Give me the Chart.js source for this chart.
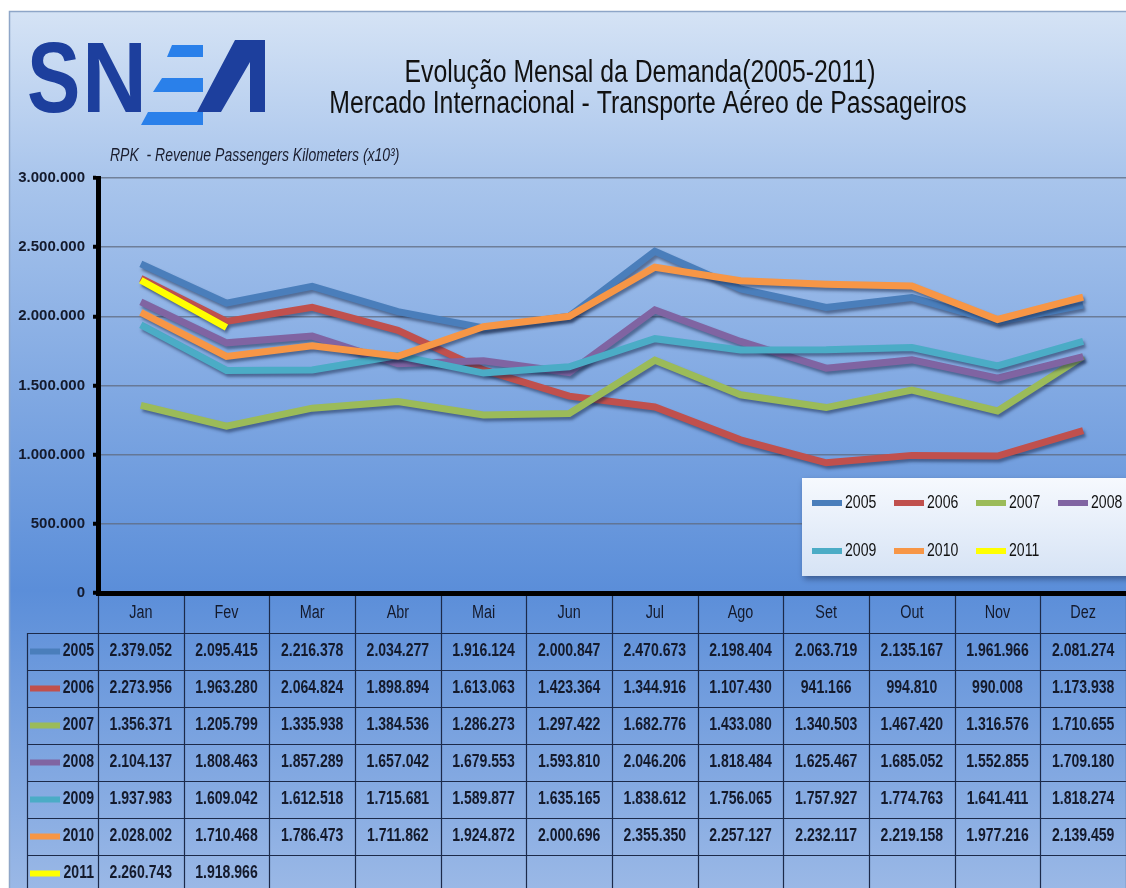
<!DOCTYPE html>
<html>
<head>
<meta charset="utf-8">
<script src="https://cdn.jsdelivr.net/npm/chart.js@4.4.1/dist/chart.umd.min.js"></script>
<style>
  html, body { margin: 0; padding: 0; background: #fff; }
  canvas { display: block; }
</style>
</head>
<body>
<canvas id="rpk" width="1126" height="888"></canvas>
<script>
const months = ["Jan", "Fev", "Mar", "Abr", "Mai", "Jun", "Jul", "Ago", "Set", "Out", "Nov", "Dez"];
const years = ["2005", "2006", "2007", "2008", "2009", "2010", "2011"];

const rpk2005 = [2379052, 2095415, 2216378, 2034277, 1916124, 2000847, 2470673, 2198404, 2063719, 2135167, 1961966, 2081274];
const rpk2006 = [2273956, 1963280, 2064824, 1898894, 1613063, 1423364, 1344916, 1107430, 941166, 994810, 990008, 1173938];
const rpk2007 = [1356371, 1205799, 1335938, 1384536, 1286273, 1297422, 1682776, 1433080, 1340503, 1467420, 1316576, 1710655];
const rpk2008 = [2104137, 1808463, 1857289, 1657042, 1679553, 1593810, 2046206, 1818484, 1625467, 1685052, 1552855, 1709180];
const rpk2009 = [1937983, 1609042, 1612518, 1715681, 1589877, 1635165, 1838612, 1756065, 1757927, 1774763, 1641411, 1818274];
const rpk2010 = [2028002, 1710468, 1786473, 1711862, 1924872, 2000696, 2355350, 2257127, 2232117, 2219158, 1977216, 2139459];
const rpk2011 = [2260743, 1918966];

const yTicks = [0, 500000, 1000000, 1500000, 2000000, 2500000, 3000000];

const seriesData = [rpk2005, rpk2006, rpk2007, rpk2008, rpk2009, rpk2010, rpk2011];
const seriesColors = ["#4a7ebb", "#c0504d", "#9bbb59", "#8064a2", "#4bacc6", "#f79646", "#ffff00"];

const FONT = '"Liberation Sans", Arial, sans-serif';
const fmt = (v) => String(v).replace(/\B(?=(\d{3})+(?!\d))/g, ".");

// Liberation Sans squeezed sideways, to look like the narrow face of the original
function narrowText(ctx, text, x, y, font, align, color, squeeze = 0.78) {
  ctx.save();
  ctx.font = font;
  ctx.fillStyle = color;
  ctx.textAlign = align;
  ctx.textBaseline = "middle";
  ctx.translate(x, y);
  ctx.scale(squeeze, 1);
  ctx.fillText(text, 0, 0);
  ctx.restore();
}

// panel background, logo and titles
const backdrop = {
  id: "backdrop",
  beforeDraw(chart) {
    const ctx = chart.ctx;
    ctx.save();
    const g = ctx.createLinearGradient(0, 11, 0, 888);
    g.addColorStop(0, "#d5e3f5");
    g.addColorStop(0.19, "#a9c5ec");
    g.addColorStop(0.66, "#5b8ed9");
    g.addColorStop(1, "#9ab8e6");
    ctx.fillStyle = g;
    ctx.fillRect(9, 11, 1117, 877);
    ctx.strokeStyle = "#8ea6c8";
    ctx.lineWidth = 1.5;
    ctx.strokeRect(9.5, 11.5, 1130, 890);

    // logo
    ctx.fillStyle = "#1d3f9d";
    ctx.font = "bold 100px " + FONT;
    ctx.textBaseline = "alphabetic";
    ctx.textAlign = "left";
    ctx.save();
    ctx.translate(27, 112);
    ctx.scale(0.8, 1);
    ctx.fillText("S", 0, 0);
    ctx.restore();
    ctx.save();
    ctx.translate(82, 112);
    ctx.scale(0.9, 1);
    ctx.fillText("N", 0, 0);
    ctx.restore();
    ctx.fillStyle = "#2a80ea";
    const bar = (tl, bl, y0, y1) => {
      ctx.beginPath();
      ctx.moveTo(tl, y0); ctx.lineTo(203, y0); ctx.lineTo(203, y1); ctx.lineTo(bl, y1);
      ctx.closePath(); ctx.fill();
    };
    bar(172, 167, 45, 57);
    bar(162, 153, 78, 92);
    bar(148, 141, 112, 125);
    ctx.fillStyle = "#1d3f9d";
    ctx.beginPath();
    ctx.moveTo(197, 112); ctx.lineTo(235, 40); ctx.lineTo(265, 40); ctx.lineTo(265, 112);
    ctx.lineTo(250, 112); ctx.lineTo(250, 62); ctx.lineTo(221, 112);
    ctx.closePath(); ctx.fill();
    ctx.restore();

    // titles
    narrowText(ctx, "Evolução Mensal da Demanda(2005-2011)", 640, 73, "31px " + FONT, "center", "#111", 0.8);
    narrowText(ctx, "Mercado Internacional - Transporte Aéreo de Passageiros", 648, 104, "31px " + FONT, "center", "#111", 0.8);
    narrowText(ctx, "RPK  - Revenue Passengers Kilometers (x10³)", 110, 156, "italic 17.5px " + FONT, "left", "#1a1d2e", 0.8);
  },
};

// drop shadow under each line
const lineShadow = {
  id: "lineShadow",
  beforeDatasetDraw(chart) {
    const ctx = chart.ctx;
    ctx.save();
    ctx.shadowColor = "rgba(20, 35, 70, 0.5)";
    ctx.shadowBlur = 3;
    ctx.shadowOffsetX = 2;
    ctx.shadowOffsetY = 3;
  },
  afterDatasetDraw(chart) {
    chart.ctx.restore();
  },
};

// legend box and data table
const legendTable = {
  id: "legendTable",
  afterDraw(chart) {
    const ctx = chart.ctx;
    const x = chart.scales.x;
    const area = chart.chartArea;
    const half = area.width / months.length / 2;
    ctx.save();

    // legend
    ctx.save();
    ctx.shadowColor = "rgba(20, 35, 70, 0.5)";
    ctx.shadowBlur = 6;
    ctx.shadowOffsetX = 2;
    ctx.shadowOffsetY = 3;
    const lg = ctx.createLinearGradient(0, 478, 0, 576);
    lg.addColorStop(0, "#f6f9fe");
    lg.addColorStop(1, "#d6e3f5");
    ctx.fillStyle = lg;
    ctx.fillRect(802, 478, 340, 98);
    ctx.restore();
    chart.data.datasets.forEach((ds, i) => {
      const lx = 812 + (i % 4) * 82;
      const ly = 503 + Math.floor(i / 4) * 48;
      ctx.fillStyle = ds.borderColor;
      ctx.fillRect(lx, ly - 3, 30, 6);
      narrowText(ctx, ds.label, lx + 33, ly, "19px " + FONT, "left", "#111", 0.74);
    });

    // table
    const rowH = 37;
    const headTop = 596;
    const bodyTop = headTop + rowH;
    const bottom = bodyTop + years.length * rowH;
    ctx.strokeStyle = "#1c2a4a";
    ctx.lineWidth = 1.2;
    ctx.beginPath();
    for (let i = 0; i <= months.length; i++) {
      const cx = Math.round(x.getPixelForValue(i) - half) + 0.5;
      ctx.moveTo(cx, headTop);
      ctx.lineTo(cx, bottom);
    }
    ctx.moveTo(27.5, bodyTop);
    ctx.lineTo(27.5, bottom);
    for (let r = 0; r <= years.length; r++) {
      const ry = bodyTop + r * rowH + 0.5;
      ctx.moveTo(27, ry);
      ctx.lineTo(area.right, ry);
    }
    ctx.stroke();

    const ink = "#141a2c";
    months.forEach((m, i) => narrowText(ctx, m, x.getPixelForValue(i), headTop + rowH / 2 - 1, "18px " + FONT, "center", ink, 0.8));
    const cellFont = "bold 18px " + FONT;
    seriesData.forEach((vals, r) => {
      const cy = bodyTop + r * rowH + rowH / 2;
      ctx.fillStyle = seriesColors[r];
      ctx.fillRect(30, cy - 3, 30, 6);
      narrowText(ctx, years[r], 94, cy, cellFont, "right", ink);
      vals.forEach((v, i) => narrowText(ctx, fmt(v), x.getPixelForValue(i), cy, cellFont, "center", ink));
    });
    ctx.restore();
  },
};

const ctx = document.getElementById("rpk").getContext("2d");

new Chart(ctx, {
  type: "line",
  data: {
    labels: months,
    datasets: years.map((y, i) => ({
      label: y,
      data: seriesData[i],
      borderColor: seriesColors[i],
      backgroundColor: seriesColors[i],
      borderWidth: 7,
      pointRadius: 0,
      tension: 0,
      borderJoinStyle: "miter",
      order: years.length - 1 - i,
    })),
  },
  options: {
    responsive: false,
    animation: false,
    layout: {
      padding: { left: 0, right: 0, top: 178, bottom: 295 },
    },
    plugins: {
      legend: { display: false },
      tooltip: { enabled: false },
    },
    scales: {
      x: {
        offset: true,
        ticks: { display: false },
        grid: { display: false, drawTicks: false },
        border: { color: "#000", width: 5 },
        afterFit(scale) { scale.height = 0; },
      },
      y: {
        min: 0,
        max: 3000000,
        afterBuildTicks(scale) { scale.ticks = yTicks.map((v) => ({ value: v })); },
        ticks: {
          padding: 8,
          color: "#141a2c",
          font: { family: FONT, size: 15, weight: "bold" },
          callback: (v) => fmt(v),
        },
        grid: {
          color: "rgba(95, 105, 125, 0.75)",
          lineWidth: 1.5,
          tickColor: "#000",
          tickLength: 5,
          tickWidth: 4,
        },
        border: { color: "#000", width: 5 },
        afterFit(scale) { scale.width = 98; },
      },
    },
  },
  plugins: [backdrop, lineShadow, legendTable],
});
</script>
</body>
</html>
